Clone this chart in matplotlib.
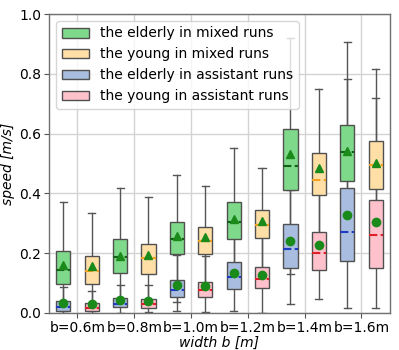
import matplotlib
matplotlib.use("Agg")
import matplotlib.pyplot as plt
from matplotlib.patches import Patch

widths_labels = ["b=0.6m", "b=0.8m", "b=1.0m", "b=1.2m", "b=1.4m", "b=1.6m"]

# elderly in mixed runs
em_q1 = [0.097, 0.132, 0.196, 0.247, 0.412, 0.441]
em_med = [0.144, 0.187, 0.246, 0.303, 0.493, 0.538]
em_q3 = [0.207, 0.246, 0.303, 0.370, 0.615, 0.627]
em_mean = [0.160, 0.192, 0.258, 0.314, 0.531, 0.541]
em_lo = [0.020, 0.030, 0.037, 0.120, 0.130, 0.300]
em_hi = [0.370, 0.417, 0.460, 0.553, 0.921, 0.906]

# young in mixed runs
ym_q1 = [0.097, 0.130, 0.196, 0.251, 0.394, 0.413]
ym_med = [0.140, 0.184, 0.239, 0.295, 0.443, 0.495]
ym_q3 = [0.191, 0.232, 0.288, 0.344, 0.536, 0.575]
ym_mean = [0.157, 0.193, 0.254, 0.306, 0.484, 0.502]
ym_lo = [0.020, 0.030, 0.070, 0.120, 0.200, 0.300]
ym_hi = [0.333, 0.388, 0.423, 0.484, 0.748, 0.815]

# elderly in assistant runs
ea_q1 = [0.006, 0.019, 0.054, 0.080, 0.151, 0.173]
ea_med = [0.020, 0.031, 0.078, 0.120, 0.213, 0.270]
ea_q3 = [0.039, 0.049, 0.110, 0.169, 0.296, 0.417]
ea_mean = [0.032, 0.042, 0.095, 0.134, 0.239, 0.327]
ea_lo = [0.001, 0.001, 0.005, 0.008, 0.029, 0.017]
ea_hi = [0.088, 0.095, 0.193, 0.300, 0.410, 0.783]

# young in assistant runs
ya_q1 = [0.008, 0.018, 0.052, 0.082, 0.145, 0.149]
ya_med = [0.016, 0.030, 0.075, 0.115, 0.200, 0.259]
ya_q3 = [0.034, 0.047, 0.104, 0.152, 0.270, 0.378]
ya_mean = [0.029, 0.040, 0.089, 0.127, 0.227, 0.304]
ya_lo = [0.001, 0.003, 0.003, 0.001, 0.046, 0.018]
ya_hi = [0.074, 0.092, 0.189, 0.300, 0.450, 0.720]

series_labels = ["the elderly in mixed runs", "the young in mixed runs",
                 "the elderly in assistant runs", "the young in assistant runs"]
face_colors = ["#7fd98a", "#ffdfa6", "#a9bde0", "#ffc2cc"]
median_colors = ["#17601a", "#f0a21e", "#1f3cc0", "#e02028"]
mean_markers = ["^", "^", "o", "o"]

def stats(q1, med, q3, mean, lo, hi):
    return [dict(q1=a, med=b, q3=c, mean=d, whislo=e, whishi=f, fliers=[])
            for a, b, c, d, e, f in zip(q1, med, q3, mean, lo, hi)]

all_stats = [
    stats(em_q1, em_med, em_q3, em_mean, em_lo, em_hi),
    stats(ym_q1, ym_med, ym_q3, ym_mean, ym_lo, ym_hi),
    stats(ea_q1, ea_med, ea_q3, ea_mean, ea_lo, ea_hi),
    stats(ya_q1, ya_med, ya_q3, ya_mean, ya_lo, ya_hi),
]
n = len(widths_labels)
elder_pos = [2 * i + 1 for i in range(n)]
young_pos = [2 * i + 2 for i in range(n)]
positions = [elder_pos, young_pos, elder_pos, young_pos]

fig = plt.figure(figsize=(3.99, 3.5), dpi=100)
ax = fig.add_axes([0.123, 0.106, 0.854, 0.854])
ax.set_axisbelow(True)
ax.grid(True, color="#d3d3d3", linewidth=1.0, zorder=0)

for k in range(4):
    ax.bxp(all_stats[k], positions=positions[k], widths=0.5, patch_artist=True,
           showmeans=True, showfliers=False, manage_ticks=False,
           boxprops=dict(facecolor=face_colors[k], edgecolor="#505050", linewidth=1.0, zorder=3),
           whiskerprops=dict(color="#555555", linewidth=1.0, zorder=1.5),
           capprops=dict(color="#555555", linewidth=1.0, zorder=1.5),
           medianprops=dict(color=median_colors[k], linewidth=1.5, linestyle=(0, (4, 1.6)), zorder=4),
           meanprops=dict(marker=mean_markers[k], markerfacecolor="#1a8a1a",
                          markeredgecolor="#1a8a1a", markersize=6, zorder=5))

ax.set_xlim(0.5, 2 * n + 0.5)
ax.set_ylim(0, 1.0)
ax.set_xticks([2 * i + 1.5 for i in range(n)])
ax.set_xticklabels(widths_labels, fontsize=10)
ax.set_yticks([0.0, 0.2, 0.4, 0.6, 0.8, 1.0])
ax.set_yticklabels(["0.0", "0.2", "0.4", "0.6", "0.8", "1.0"], fontsize=10)
ax.tick_params(axis="both", length=3.5, color="#555555", pad=2)
for s in ax.spines.values():
    s.set_color("#707070")
    s.set_linewidth(1.0)

ax.set_xlabel("width b [m]", fontsize=10, fontstyle="italic", labelpad=1)
ax.set_ylabel("speed [m/s]", fontsize=10, fontstyle="italic", labelpad=3)

handles = [Patch(facecolor=face_colors[k], edgecolor="#505050", label=series_labels[k]) for k in range(4)]
ax.legend(handles=handles, loc="upper left", fontsize=10, framealpha=0.8)

fig.savefig("out.png", dpi=100)
